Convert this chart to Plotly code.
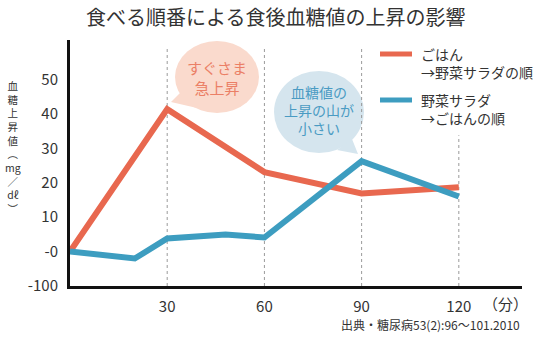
import plotly.graph_objects as go

# ---- data ----
rice_first_x = [0, 30, 60, 90, 120]
rice_first_y = [0, 41.4, 23.1, 16.9, 18.7]
veg_first_x = [0, 20, 30, 48, 60, 90, 120]
veg_first_y = [0, -2, 3.8, 5, 4.1, 26.3, 16]
series_names = ["ごはん<br>→野菜サラダの順", "野菜サラダ<br>→ごはんの順"]
y_tickvals = [-10, 0, 10, 20, 30, 40, 50]
y_ticktext = ["-100", "-0", "10", "20", "30", "40", "50"]
x_tickvals = [30, 60, 90, 120]
x_ticktext = ["30", "60", "90", "120"]

RED = "#E8684F"
BLUE = "#3D9DC0"
FONT = "Noto Sans CJK JP"
TXT = "#333333"

W, H = 550, 337
L, R, T, B = 70, 28, 40, 51
PW, PH = W - L - R, H - T - B


def px(xp):
    return (xp - L) / PW


def py(yp):
    return (H - B - yp) / PH


fig = go.Figure()
fig.add_trace(go.Scatter(x=rice_first_x, y=rice_first_y, mode="lines",
                         line=dict(color=RED, width=6), name=series_names[0],
                         showlegend=False))
fig.add_trace(go.Scatter(x=veg_first_x, y=veg_first_y, mode="lines",
                         line=dict(color=BLUE, width=6), name=series_names[1],
                         showlegend=False))

shapes = []
# dotted vertical grid lines
grid_tops = [59.2, 59.2, 59.2, 33.8]
for xv, top in zip(x_tickvals, grid_tops):
    shapes.append(dict(type="line", xref="x", yref="y", x0=xv, x1=xv, y0=-10, y1=top,
                       line=dict(color="#9a9a9a", width=1, dash="dot"), layer="below"))

# speech bubbles
PINK_FILL = "#FADACD"
BLUE_FILL = "#D5E5EE"
cx, cy, rx, ry = 217, 77, 42, 36
shapes.append(dict(type="circle", xref="paper", yref="paper",
                   x0=px(cx - rx), x1=px(cx + rx), y0=py(cy + ry), y1=py(cy - ry),
                   fillcolor=PINK_FILL, line=dict(width=0), layer="below"))
tri = [(181, 92), (197, 108), (171, 102)]
shapes.append(dict(type="path", xref="paper", yref="paper",
                   path="M {} {} L {} {} L {} {} Z".format(*[v for p in tri for v in (px(p[0]), py(p[1]))]),
                   fillcolor=PINK_FILL, line=dict(width=0), layer="below"))

bx, by, brx, bry = 319, 112, 45, 41
shapes.append(dict(type="circle", xref="paper", yref="paper",
                   x0=px(bx - brx), x1=px(bx + brx), y0=py(by + bry), y1=py(by - bry),
                   fillcolor=BLUE_FILL, line=dict(width=0), layer="below"))
tri2 = [(352, 139), (337, 150), (358, 154)]
shapes.append(dict(type="path", xref="paper", yref="paper",
                   path="M {} {} L {} {} L {} {} Z".format(*[v for p in tri2 for v in (px(p[0]), py(p[1]))]),
                   fillcolor=BLUE_FILL, line=dict(width=0), layer="below"))

# manual legend samples
for yy, col in [(54, RED), (100, BLUE)]:
    shapes.append(dict(type="line", xref="paper", yref="paper", x0=px(380), x1=px(412),
                       y0=py(yy), y1=py(yy), line=dict(color=col, width=5)))

annotations = []


def ann(text, x, y, size, color=TXT, xanchor="center", yanchor="middle", align="center"):
    annotations.append(dict(text=text, x=px(x), y=py(y), xref="paper", yref="paper",
                            showarrow=False, xanchor=xanchor, yanchor=yanchor, align=align,
                            font=dict(family=FONT, size=size, color=color)))


# title
ann("食べる順番による食後血糖値の上昇の影響", 275, 17, 20)
# bubble texts
PINK_TXT = "#EB7F66"
BLUE_TXT = "#4A9BC3"
ann("すぐさま<br>急上昇", 217, 77, 15, PINK_TXT)
ann("血糖値の<br>上昇の山が<br>小さい", 319, 110, 14, BLUE_TXT)
# legend texts
ann(series_names[0], 419, 63, 14, xanchor="left", align="left")
ann(series_names[1], 419, 109, 14, xanchor="left", align="left")
# y axis title (vertical, stacked)
ytitle_chars = ["血", "糖", "上", "昇", "値", "︵", "mg", "／", "dℓ", "︶"]
ann("<br>".join(ytitle_chars), 13, 147, 10.5)
# x unit
ann("（分）", 505, 303, 15)
# source
ann("出典・糖尿病53(2):96〜101.2010", 522, 324, 12, xanchor="right")

fig.update_layout(
    width=W, height=H,
    margin=dict(l=L, r=R, t=T, b=B, pad=0),
    paper_bgcolor="white", plot_bgcolor="white",
    showlegend=False,
    shapes=shapes, annotations=annotations,
    font=dict(family=FONT, color=TXT),
    xaxis=dict(range=[0, 139.5], tickvals=x_tickvals, ticktext=x_ticktext,
               showgrid=False, zeroline=False, showline=True, linecolor="#111111",
               linewidth=3, ticks="", ticklabelstandoff=5,
               tickfont=dict(family=FONT, size=15, color=TXT)),
    yaxis=dict(range=[-10, 61.5], tickvals=y_tickvals, ticktext=y_ticktext,
               showgrid=False, zeroline=False, showline=True, linecolor="#111111",
               linewidth=3, ticks="", ticklabelstandoff=6,
               tickfont=dict(family=FONT, size=15, color=TXT)),
)

fig.write_html("out.html")
